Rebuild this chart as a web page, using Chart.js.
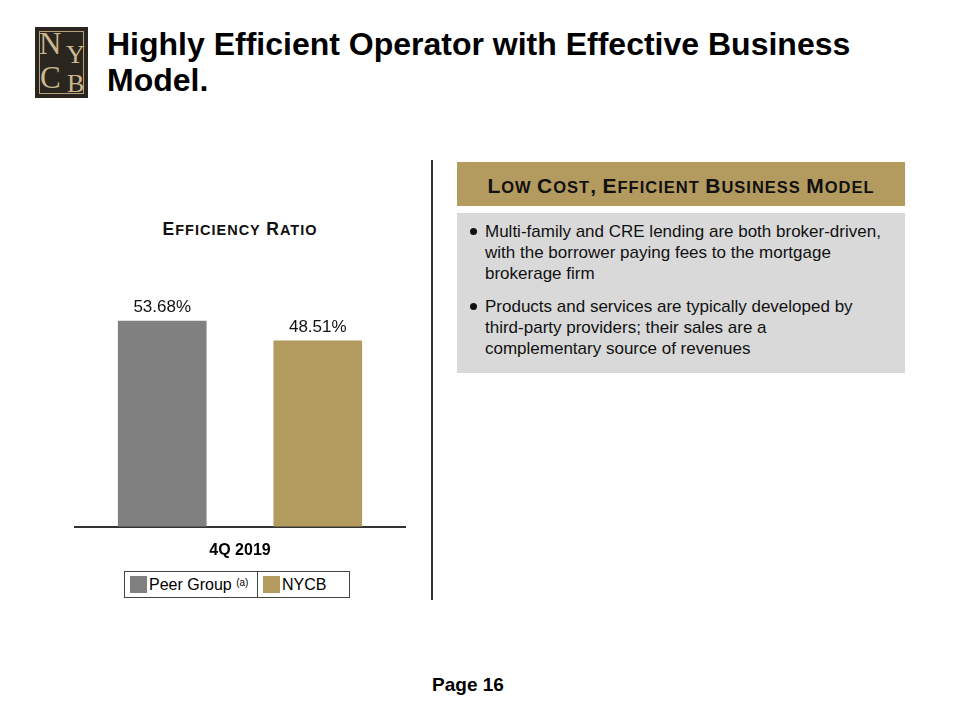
<!DOCTYPE html>
<html>
<head>
<meta charset="utf-8">
<script src="https://cdn.jsdelivr.net/npm/chart.js@4.4.1/dist/chart.umd.min.js"></script>
<style>
  body { margin: 0; width: 960px; height: 720px; background: #fff; font-family: "Liberation Sans", Arial, sans-serif; position: relative; overflow: hidden; }
  .abs { position: absolute; }
  #logo { left: 35px; top: 27px; width: 53px; height: 71px; background: #2b2520; }
  #logo .inner { position: absolute; left: 4px; top: 4px; right: 4px; bottom: 4px; border: 1.5px solid #b5a27a; }
  #logo span { position: absolute; color: #c9b88e; font-family: "Liberation Serif", "DejaVu Serif", serif; }
  #title { left: 107px; top: 26px; font-size: 32px; font-weight: bold; line-height: 36px; color: #000; }
  #ctitle { left: 74px; width: 332px; top: 219px; text-align: center; font-weight: bold; color: #111; letter-spacing: 1px; }
  #divider { left: 431px; top: 160px; width: 2px; height: 440px; background: #333; }
  #hdr { left: 457px; top: 162px; width: 448px; height: 44px; background: #b39a5e; text-align: center; line-height: 48px; font-weight: bold; letter-spacing: 1px; color: #111; }
  .c1 { font-size: 17.5px; } .s1 { font-size: 14.5px; }
  .c2 { font-size: 21px; } .s2 { font-size: 16.5px; }
  #body { left: 457px; top: 213px; width: 448px; height: 160px; background: #d9d9d9; }
  #body ul { margin: 0; padding: 8px 0 0 28px; list-style: none; }
  #body li { position: relative; font-size: 17px; line-height: 21px; color: #111; margin-bottom: 12px; white-space: nowrap; }
  #body li::before { content: ""; position: absolute; left: -15px; top: 7px; width: 7px; height: 7px; border-radius: 50%; background: #111; }
  #legend { left: 124px; top: 571px; width: 224px; height: 25px; border: 1px solid #444; display: flex; font-size: 16px; }
  #legend div { display: flex; align-items: center; }
  #legend .sw { width: 17px; height: 17px; margin: 0 2px 0 5px; }
  #page { left: 380px; width: 176px; top: 674px; text-align: center; font-weight: bold; font-size: 19px; }
  #wrap { left: 74px; top: 258px; width: 332px; height: 308px; }
</style>
</head>
<body>
<div id="logo" class="abs"><div class="inner"></div>
  <span style="left:4px;top:1px;font-size:31px;line-height:31px">N</span>
  <span style="left:31px;top:15px;font-size:26px;line-height:26px">Y</span>
  <span style="left:5px;top:35px;font-size:31px;line-height:31px">C</span>
  <span style="left:32px;top:44px;font-size:26px;line-height:26px">B</span>
</div>
<div id="title" class="abs">Highly Efficient Operator with Effective Business<br>Model.</div>
<div id="ctitle" class="abs"><span class="c1">E</span><span class="s1">FFICIENCY</span> <span class="c1">R</span><span class="s1">ATIO</span></div>
<div id="divider" class="abs"></div>
<div id="hdr" class="abs"><span class="c2">L</span><span class="s2">OW</span> <span class="c2">C</span><span class="s2">OST</span><span class="c2">,</span> <span class="c2">E</span><span class="s2">FFICIENT</span> <span class="c2">B</span><span class="s2">USINESS</span> <span class="c2">M</span><span class="s2">ODEL</span></div>
<div id="body" class="abs">
  <ul>
    <li>Multi-family and CRE lending are both broker-driven,<br>with the borrower paying fees to the mortgage<br>brokerage firm</li>
    <li>Products and services are typically developed by<br>third-party providers; their sales are a<br>complementary source of revenues</li>
  </ul>
</div>
<div id="wrap" class="abs"><canvas id="myChart"></canvas></div>
<div id="legend" class="abs">
  <div style="width:132px;border-right:1px solid #444"><span class="sw" style="background:#808080"></span>Peer Group&nbsp;<sup style="font-size:10px;position:relative;top:-2px">(a)</sup></div>
  <div><span class="sw" style="background:#b39a5e"></span>NYCB</div>
</div>
<div id="page" class="abs">Page 16</div>

<script>
// du lieu
var categories = ['4Q 2019'];
var peerGroup = [53.68];
var nycb = [48.51];

var valueLabels = {
    id: 'valueLabels',
    afterDatasetsDraw: function(chart) {
        var ctx = chart.ctx;
        ctx.save();
        ctx.font = '17px "Liberation Sans", Arial, sans-serif';
        ctx.fillStyle = '#111';
        ctx.textAlign = 'center';
        ctx.textBaseline = 'bottom';
        chart.data.datasets.forEach(function(ds, i) {
            chart.getDatasetMeta(i).data.forEach(function(bar, j) {
                ctx.fillText(ds.data[j].toFixed(2) + '%', bar.x, bar.y - 5);
            });
        });
        ctx.restore();
    }
};

var ctx = document.getElementById('myChart').getContext('2d');
var myChart = new Chart(ctx, {
    type: 'bar',
    data: {
        labels: categories,
        datasets: [{
            label: 'Peer Group',
            data: peerGroup,
            backgroundColor: '#808080'
        }, {
            label: 'NYCB',
            data: nycb,
            backgroundColor: '#b39a5e'
        }]
    },
    options: {
        responsive: true,
        maintainAspectRatio: false,
        animation: false,
        categoryPercentage: 0.937,
        barPercentage: 0.57,
        layout: { padding: 0 },
        plugins: {
            legend: { display: false },
            tooltip: { enabled: false }
        },
        scales: {
            x: {
                grid: { display: false },
                border: { display: true, color: '#333', width: 2 },
                ticks: {
                    color: '#000',
                    padding: 6,
                    font: { family: '"Liberation Sans", Arial, sans-serif', size: 16, weight: 'bold' }
                }
            },
            y: {
                display: false,
                beginAtZero: true,
                min: 0,
                max: 70
            }
        }
    },
    plugins: [valueLabels]
});
</script>
</body>
</html>
